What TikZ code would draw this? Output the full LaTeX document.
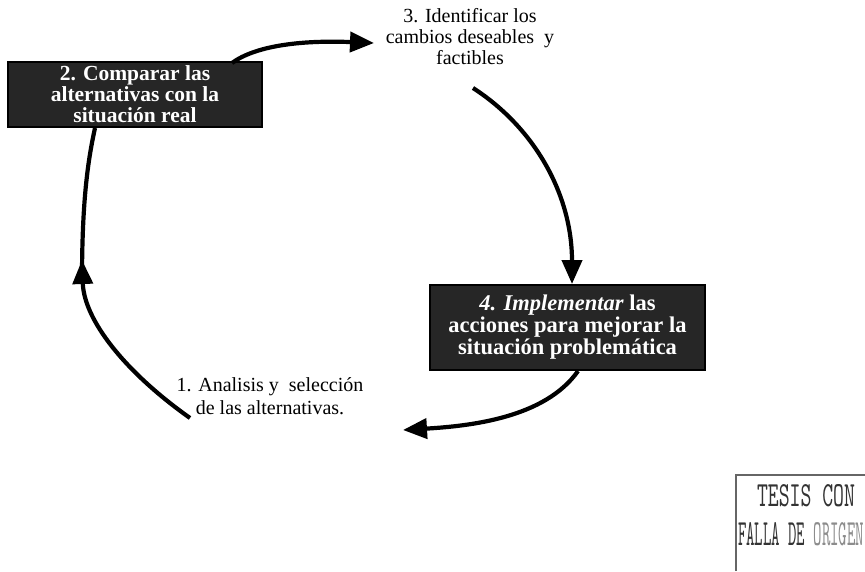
\documentclass[tikz,border=0pt]{standalone}
\usepackage{fontspec}
\usepackage{graphicx}
\setmainfont{Liberation Serif}
\usetikzlibrary{arrows.meta}
\begin{document}
\begin{tikzpicture}[x=1pt,y=-1pt,
  darkbox/.style={draw=black, line width=1.5pt, fill=black!85, text=white,
    align=center, inner sep=0pt},
  lbl/.style={align=center, inner sep=0pt, font=\fontsize{20}{21}\selectfont},
  flow/.style={line width=4.2pt, -{Triangle[length=24pt,width=20pt]}},
  plainflow/.style={line width=4.2pt},
  stampline/.style={line width=1.2pt, draw=black!60},
  stamptext/.style={inner sep=0pt, text=black!80}]
\useasboundingbox (0,0) rectangle (865,571);

% boxes
\node[darkbox, minimum width=254pt, minimum height=65pt,
  font=\fontsize{21.5}{21}\selectfont\bfseries] (b2) at (135,94.5)
  {2. Comparar las\\alternativas con la\\situación real};
\node[darkbox, minimum width=275pt, minimum height=85pt,
  font=\fontsize{22.5}{22}\selectfont\bfseries] (b4) at (567.5,327.5)
  {\textit{4. Implementar} las\\acciones para mejorar la\\situación problemática};

% labels
\node[lbl] (t3) at (470,37) {3. Identificar los\\cambios deseables\ \ y\\factibles};
\node[lbl, font=\fontsize{20}{23}\selectfont] (t1) at (270,396) {1. Analisis y\ \ selección\\de las alternativas.};

% attachment points
\coordinate (a2) at (232,63);
\coordinate (a3in) at (374,43);
\coordinate (a3out) at (473,88);
\coordinate (a4in) at (572,284);
\coordinate (a4out) at (578,371);
\coordinate (a1in) at (403,430);
\coordinate (a1out) at (190,418);
\coordinate (tipD) at (82,260);
\coordinate (midD) at (82,280);
\coordinate (b2bot) at (95,128);

% arrows
\draw[flow] (a2) .. controls (255,46) and (300,40) .. (a3in);
\draw[flow] (a3out) .. controls (535,128) and (572,195) .. (a4in);
\draw[flow] (a4out) .. controls (545,418) and (470,426) .. (a1in);
\draw[flow] (a1out) .. controls (125,372) and (84,320) .. (tipD);
\draw[plainflow] (midD) .. controls (82,200) and (88,160) .. (b2bot);

% stamp
\draw[stampline] (736,571) -- (736,475) -- (865,475);
\node[stamptext] (s1) at (806,496) {\resizebox{98pt}{22pt}{\ttfamily TESIS CON}};
\node[stamptext] (s2) at (801,534) {\resizebox{126pt}{23pt}{\ttfamily FALLA DE \textcolor{black!45}{ORIGEN}}};
\end{tikzpicture}
\end{document}
